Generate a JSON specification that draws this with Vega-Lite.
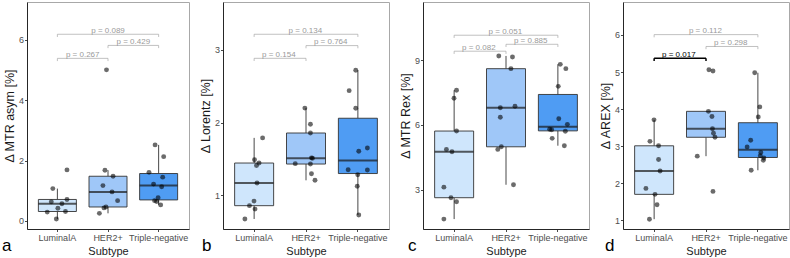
{
  "$schema": "https://vega.github.io/schema/vega-lite/v6.json",
  "background": "white",
  "padding": {"left": 1, "top": 1, "right": 2, "bottom": 0},
  "config": {
    "font": "Liberation Sans",
    "view": {"stroke": "#a8a8a8", "strokeWidth": 1},
    "axis": {
      "grid": false,
      "domainColor": "#262626",
      "domainWidth": 1,
      "tickColor": "#333333",
      "tickSize": 2.5,
      "tickWidth": 0.9,
      "labelFont": "Liberation Sans",
      "labelFontSize": 9,
      "labelColor": "#4d4d4d",
      "labelPadding": 1,
      "titleFont": "Liberation Sans",
      "titleFontSize": 11,
      "titleFontWeight": "normal",
      "titleColor": "#1a1a1a"
    },
    "axisX": {"labelAngle": 0, "titlePadding": 3, "labelPadding": 1.5},
    "axisY": {"titlePadding": 2, "format": "d", "titleFontSize": 12.5},
    "title": {"font": "Liberation Sans", "fontSize": 17, "fontWeight": "normal", "color": "#000000"}
  },
  "datasets": {
    "pts": [
      {"panel": "a", "subtype": "LuminalA", "value": 1.69, "jitter": 0.19},
      {"panel": "a", "subtype": "LuminalA", "value": 1.07, "jitter": -0.09},
      {"panel": "a", "subtype": "LuminalA", "value": 0.63, "jitter": -0.12},
      {"panel": "a", "subtype": "LuminalA", "value": 0.57, "jitter": 0.09},
      {"panel": "a", "subtype": "LuminalA", "value": 0.71, "jitter": 0.19},
      {"panel": "a", "subtype": "LuminalA", "value": 0.42, "jitter": 0.01},
      {"panel": "a", "subtype": "LuminalA", "value": 0.29, "jitter": -0.2},
      {"panel": "a", "subtype": "LuminalA", "value": 0.31, "jitter": 0.16},
      {"panel": "a", "subtype": "LuminalA", "value": 0.06, "jitter": -0.02},
      {"panel": "a", "subtype": "HER2+", "value": 5.01, "jitter": -0.03},
      {"panel": "a", "subtype": "HER2+", "value": 1.68, "jitter": -0.06},
      {"panel": "a", "subtype": "HER2+", "value": 1.48, "jitter": 0.1},
      {"panel": "a", "subtype": "HER2+", "value": 1.17, "jitter": -0.1},
      {"panel": "a", "subtype": "HER2+", "value": 0.96, "jitter": 0.08},
      {"panel": "a", "subtype": "HER2+", "value": 0.67, "jitter": 0.19},
      {"panel": "a", "subtype": "HER2+", "value": 0.46, "jitter": -0.04},
      {"panel": "a", "subtype": "HER2+", "value": 0.43, "jitter": -0.08},
      {"panel": "a", "subtype": "HER2+", "value": 0.25, "jitter": -0.17},
      {"panel": "a", "subtype": "Triple-negative", "value": 2.52, "jitter": -0.07},
      {"panel": "a", "subtype": "Triple-negative", "value": 2.13, "jitter": 0.1},
      {"panel": "a", "subtype": "Triple-negative", "value": 1.61, "jitter": -0.19},
      {"panel": "a", "subtype": "Triple-negative", "value": 1.45, "jitter": 0.08},
      {"panel": "a", "subtype": "Triple-negative", "value": 1.22, "jitter": -0.1},
      {"panel": "a", "subtype": "Triple-negative", "value": 1.13, "jitter": 0.06},
      {"panel": "a", "subtype": "Triple-negative", "value": 0.77, "jitter": -0.01},
      {"panel": "a", "subtype": "Triple-negative", "value": 0.67, "jitter": -0.08},
      {"panel": "a", "subtype": "Triple-negative", "value": 0.64, "jitter": -0.04},
      {"panel": "a", "subtype": "Triple-negative", "value": 0.53, "jitter": 0.04},

      {"panel": "b", "subtype": "LuminalA", "value": 1.79, "jitter": 0.18},
      {"panel": "b", "subtype": "LuminalA", "value": 1.49, "jitter": 0.02},
      {"panel": "b", "subtype": "LuminalA", "value": 1.444, "jitter": 0.11},
      {"panel": "b", "subtype": "LuminalA", "value": 1.41, "jitter": 0.06},
      {"panel": "b", "subtype": "LuminalA", "value": 1.169, "jitter": 0.07},
      {"panel": "b", "subtype": "LuminalA", "value": 0.92, "jitter": 0.01},
      {"panel": "b", "subtype": "LuminalA", "value": 0.857, "jitter": -0.08},
      {"panel": "b", "subtype": "LuminalA", "value": 0.81, "jitter": 0.03},
      {"panel": "b", "subtype": "LuminalA", "value": 0.674, "jitter": -0.17},
      {"panel": "b", "subtype": "HER2+", "value": 2.2, "jitter": -0.01},
      {"panel": "b", "subtype": "HER2+", "value": 1.977, "jitter": 0.1},
      {"panel": "b", "subtype": "HER2+", "value": 1.857, "jitter": 0.1},
      {"panel": "b", "subtype": "HER2+", "value": 1.515, "jitter": 0.12},
      {"panel": "b", "subtype": "HER2+", "value": 1.51, "jitter": 0.14},
      {"panel": "b", "subtype": "HER2+", "value": 1.435, "jitter": -0.2},
      {"panel": "b", "subtype": "HER2+", "value": 1.43, "jitter": 0.1},
      {"panel": "b", "subtype": "HER2+", "value": 1.297, "jitter": 0.12},
      {"panel": "b", "subtype": "HER2+", "value": 1.206, "jitter": 0.19},
      {"panel": "b", "subtype": "Triple-negative", "value": 2.72, "jitter": -0.03},
      {"panel": "b", "subtype": "Triple-negative", "value": 2.44, "jitter": -0.16},
      {"panel": "b", "subtype": "Triple-negative", "value": 2.197, "jitter": -0.03},
      {"panel": "b", "subtype": "Triple-negative", "value": 1.65, "jitter": 0.2},
      {"panel": "b", "subtype": "Triple-negative", "value": 1.605, "jitter": 0.03},
      {"panel": "b", "subtype": "Triple-negative", "value": 1.352, "jitter": -0.18},
      {"panel": "b", "subtype": "Triple-negative", "value": 1.348, "jitter": 0.2},
      {"panel": "b", "subtype": "Triple-negative", "value": 1.283, "jitter": 0.01},
      {"panel": "b", "subtype": "Triple-negative", "value": 1.124, "jitter": 0.0},
      {"panel": "b", "subtype": "Triple-negative", "value": 0.729, "jitter": 0.03},

      {"panel": "c", "subtype": "LuminalA", "value": 7.61, "jitter": 0.06},
      {"panel": "c", "subtype": "LuminalA", "value": 7.24, "jitter": 0.01},
      {"panel": "c", "subtype": "LuminalA", "value": 5.72, "jitter": 0.06},
      {"panel": "c", "subtype": "LuminalA", "value": 4.87, "jitter": -0.14},
      {"panel": "c", "subtype": "LuminalA", "value": 4.76, "jitter": -0.03},
      {"panel": "c", "subtype": "LuminalA", "value": 3.12, "jitter": -0.19},
      {"panel": "c", "subtype": "LuminalA", "value": 2.63, "jitter": -0.05},
      {"panel": "c", "subtype": "LuminalA", "value": 2.44, "jitter": 0.06},
      {"panel": "c", "subtype": "LuminalA", "value": 1.64, "jitter": -0.19},
      {"panel": "c", "subtype": "HER2+", "value": 9.2, "jitter": -0.13},
      {"panel": "c", "subtype": "HER2+", "value": 9.15, "jitter": 0.14},
      {"panel": "c", "subtype": "HER2+", "value": 8.61, "jitter": 0.11},
      {"panel": "c", "subtype": "HER2+", "value": 6.8, "jitter": -0.1},
      {"panel": "c", "subtype": "HER2+", "value": 6.87, "jitter": 0.19},
      {"panel": "c", "subtype": "HER2+", "value": 6.36, "jitter": -0.1},
      {"panel": "c", "subtype": "HER2+", "value": 4.99, "jitter": -0.08},
      {"panel": "c", "subtype": "HER2+", "value": 4.87, "jitter": -0.15},
      {"panel": "c", "subtype": "HER2+", "value": 3.23, "jitter": 0.16},
      {"panel": "c", "subtype": "Triple-negative", "value": 8.81, "jitter": 0.06},
      {"panel": "c", "subtype": "Triple-negative", "value": 8.61, "jitter": 0.17},
      {"panel": "c", "subtype": "Triple-negative", "value": 7.79, "jitter": 0.02},
      {"panel": "c", "subtype": "Triple-negative", "value": 6.29, "jitter": 0.03},
      {"panel": "c", "subtype": "Triple-negative", "value": 6.03, "jitter": 0.2},
      {"panel": "c", "subtype": "Triple-negative", "value": 5.8, "jitter": -0.15},
      {"panel": "c", "subtype": "Triple-negative", "value": 5.78, "jitter": -0.11},
      {"panel": "c", "subtype": "Triple-negative", "value": 5.71, "jitter": 0.16},
      {"panel": "c", "subtype": "Triple-negative", "value": 5.38, "jitter": -0.1},
      {"panel": "c", "subtype": "Triple-negative", "value": 5.04, "jitter": 0.14},

      {"panel": "d", "subtype": "LuminalA", "value": 3.71, "jitter": 0.01},
      {"panel": "d", "subtype": "LuminalA", "value": 3.13, "jitter": -0.07},
      {"panel": "d", "subtype": "LuminalA", "value": 3.01, "jitter": 0.1},
      {"panel": "d", "subtype": "LuminalA", "value": 2.64, "jitter": 0.1},
      {"panel": "d", "subtype": "LuminalA", "value": 2.33, "jitter": 0.13},
      {"panel": "d", "subtype": "LuminalA", "value": 1.86, "jitter": -0.15},
      {"panel": "d", "subtype": "LuminalA", "value": 1.7, "jitter": 0.03},
      {"panel": "d", "subtype": "LuminalA", "value": 1.42, "jitter": 0.07},
      {"panel": "d", "subtype": "LuminalA", "value": 1.03, "jitter": -0.08},
      {"panel": "d", "subtype": "HER2+", "value": 5.06, "jitter": 0.07},
      {"panel": "d", "subtype": "HER2+", "value": 5.03, "jitter": 0.15},
      {"panel": "d", "subtype": "HER2+", "value": 3.94, "jitter": 0.06},
      {"panel": "d", "subtype": "HER2+", "value": 3.8, "jitter": 0.13},
      {"panel": "d", "subtype": "HER2+", "value": 3.47, "jitter": 0.14},
      {"panel": "d", "subtype": "HER2+", "value": 3.35, "jitter": 0.16},
      {"panel": "d", "subtype": "HER2+", "value": 3.24, "jitter": 0.19},
      {"panel": "d", "subtype": "HER2+", "value": 2.73, "jitter": -0.16},
      {"panel": "d", "subtype": "HER2+", "value": 1.78, "jitter": 0.15},
      {"panel": "d", "subtype": "Triple-negative", "value": 4.98, "jitter": -0.05},
      {"panel": "d", "subtype": "Triple-negative", "value": 4.06, "jitter": 0.05},
      {"panel": "d", "subtype": "Triple-negative", "value": 3.79, "jitter": 0.02},
      {"panel": "d", "subtype": "Triple-negative", "value": 3.16, "jitter": -0.13},
      {"panel": "d", "subtype": "Triple-negative", "value": 2.98, "jitter": -0.2},
      {"panel": "d", "subtype": "Triple-negative", "value": 2.83, "jitter": 0.07},
      {"panel": "d", "subtype": "Triple-negative", "value": 2.74, "jitter": 0.06},
      {"panel": "d", "subtype": "Triple-negative", "value": 2.68, "jitter": 0.13},
      {"panel": "d", "subtype": "Triple-negative", "value": 2.62, "jitter": 0.12},
      {"panel": "d", "subtype": "Triple-negative", "value": 2.35, "jitter": -0.12}
    ],
    "brk": [
      {"panel": "a", "g1": "LuminalA", "g2": "Triple-negative", "y": 6.19, "ytip": 6.1, "mid": "HER2+", "moff": 0, "label": "p = 0.089", "sig": false},
      {"panel": "a", "g1": "HER2+", "g2": "Triple-negative", "y": 5.82, "ytip": 5.73, "mid": "HER2+", "moff": 0.5, "label": "p = 0.429", "sig": false},
      {"panel": "a", "g1": "LuminalA", "g2": "HER2+", "y": 5.39, "ytip": 5.3, "mid": "LuminalA", "moff": 0.5, "label": "p = 0.267", "sig": false},
      {"panel": "b", "g1": "LuminalA", "g2": "Triple-negative", "y": 3.216, "ytip": 3.179, "mid": "HER2+", "moff": 0, "label": "p = 0.134", "sig": false},
      {"panel": "b", "g1": "HER2+", "g2": "Triple-negative", "y": 3.06, "ytip": 3.023, "mid": "HER2+", "moff": 0.5, "label": "p = 0.764", "sig": false},
      {"panel": "b", "g1": "LuminalA", "g2": "HER2+", "y": 2.885, "ytip": 2.848, "mid": "LuminalA", "moff": 0.5, "label": "p = 0.154", "sig": false},
      {"panel": "c", "g1": "LuminalA", "g2": "Triple-negative", "y": 10.16, "ytip": 10.035, "mid": "HER2+", "moff": 0, "label": "p = 0.051", "sig": false},
      {"panel": "c", "g1": "HER2+", "g2": "Triple-negative", "y": 9.74, "ytip": 9.615, "mid": "HER2+", "moff": 0.5, "label": "p = 0.885", "sig": false},
      {"panel": "c", "g1": "LuminalA", "g2": "HER2+", "y": 9.42, "ytip": 9.295, "mid": "LuminalA", "moff": 0.5, "label": "p = 0.082", "sig": false},
      {"panel": "d", "g1": "LuminalA", "g2": "Triple-negative", "y": 6.01, "ytip": 5.937, "mid": "HER2+", "moff": 0, "label": "p = 0.112", "sig": false},
      {"panel": "d", "g1": "HER2+", "g2": "Triple-negative", "y": 5.69, "ytip": 5.617, "mid": "HER2+", "moff": 0.5, "label": "p = 0.298", "sig": false},
      {"panel": "d", "g1": "LuminalA", "g2": "HER2+", "y": 5.37, "ytip": 5.297, "mid": "LuminalA", "moff": 0.5, "label": "p = 0.017", "sig": true}
    ]
  },
  "hconcat": [
    {
      "width": 162, "height": 227,
      "title": {"text": "a", "orient": "bottom", "anchor": "start", "frame": "group", "dx": -25, "offset": -5, "baseline": "alphabetic"},
      "layer": [
        {"data": {"name": "pts"}, "transform": [{"filter": "datum.panel == 'a'"}],
         "mark": {"type": "boxplot", "size": 38, "extent": 1.5, "outliers": false, "ticks": false,
                  "box": {"stroke": "#333333", "strokeWidth": 0.9},
                  "median": {"color": "#1a1a1a", "thickness": 2},
                  "rule": {"color": "#333333", "strokeWidth": 0.9}},
         "encoding": {
           "x": {"field": "subtype", "type": "nominal", "title": "Subtype", "sort": ["LuminalA", "HER2+", "Triple-negative"],
                 "scale": {"domain": ["LuminalA", "HER2+", "Triple-negative"], "paddingInner": 0, "paddingOuter": 0.1}},
           "y": {"field": "value", "type": "quantitative", "title": "Δ MTR asym [%]",
                 "scale": {"domain": [-0.27, 7.26], "nice": false, "zero": false}, "axis": {"values": [0, 2, 4, 6]}},
           "color": {"field": "subtype", "type": "nominal", "legend": null,
                     "scale": {"domain": ["LuminalA", "HER2+", "Triple-negative"], "range": ["#cfe6fc", "#9fc7f8", "#4f9cf3"]}}
         }},
        {"data": {"name": "pts"}, "transform": [{"filter": "datum.panel == 'a'"}],
         "mark": {"type": "point", "filled": true, "color": "#000000", "opacity": 0.58, "size": 24},
         "encoding": {
           "x": {"field": "subtype", "type": "nominal", "title": "Subtype"},
           "xOffset": {"field": "jitter", "type": "quantitative", "scale": {"domain": [-0.5, 0.5]}},
           "y": {"field": "value", "type": "quantitative", "title": "Δ MTR asym [%]"}
         }},
        {"data": {"name": "brk"}, "transform": [{"filter": "datum.panel == 'a'"}],
         "layer": [
           {"mark": {"type": "rule"},
            "encoding": {"x": {"field": "g1", "type": "nominal", "title": "Subtype"}, "x2": {"field": "g2"},
                         "y": {"field": "y", "type": "quantitative", "title": "Δ MTR asym [%]"},
                         "color": {"condition": {"test": "datum.sig", "value": "#000000"}, "value": "#a6a6a6"},
                         "strokeWidth": {"condition": {"test": "datum.sig", "value": 1.5}, "value": 0.7}}},
           {"mark": {"type": "rule"},
            "encoding": {"x": {"field": "g1", "type": "nominal", "title": "Subtype"},
                         "y": {"field": "y", "type": "quantitative", "title": "Δ MTR asym [%]"}, "y2": {"field": "ytip"},
                         "color": {"condition": {"test": "datum.sig", "value": "#000000"}, "value": "#a6a6a6"},
                         "strokeWidth": {"condition": {"test": "datum.sig", "value": 1.5}, "value": 0.7}}},
           {"mark": {"type": "rule"},
            "encoding": {"x": {"field": "g2", "type": "nominal", "title": "Subtype"},
                         "y": {"field": "y", "type": "quantitative", "title": "Δ MTR asym [%]"}, "y2": {"field": "ytip"},
                         "color": {"condition": {"test": "datum.sig", "value": "#000000"}, "value": "#a6a6a6"},
                         "strokeWidth": {"condition": {"test": "datum.sig", "value": 1.5}, "value": 0.7}}},
           {"mark": {"type": "text", "fontSize": 8, "baseline": "alphabetic", "dy": -1.5},
            "encoding": {"x": {"field": "mid", "type": "nominal", "title": "Subtype"},
                         "xOffset": {"field": "moff", "type": "quantitative", "scale": {"domain": [-0.5, 0.5]}},
                         "y": {"field": "y", "type": "quantitative", "title": "Δ MTR asym [%]"},
                         "text": {"field": "label"},
                         "color": {"condition": {"test": "datum.sig", "value": "#000000"}, "value": "#9a9a9a"}}}
         ]}
      ]
    },
    {
      "width": 166, "height": 227,
      "title": {"text": "b", "orient": "bottom", "anchor": "start", "frame": "group", "dx": -21, "offset": -5, "baseline": "alphabetic"},
      "layer": [
        {"data": {"name": "pts"}, "transform": [{"filter": "datum.panel == 'b'"}],
         "mark": {"type": "boxplot", "size": 39, "extent": 1.5, "outliers": false, "ticks": false,
                  "box": {"stroke": "#333333", "strokeWidth": 0.9},
                  "median": {"color": "#1a1a1a", "thickness": 2},
                  "rule": {"color": "#333333", "strokeWidth": 0.9}},
         "encoding": {
           "x": {"field": "subtype", "type": "nominal", "title": "Subtype", "sort": ["LuminalA", "HER2+", "Triple-negative"],
                 "scale": {"domain": ["LuminalA", "HER2+", "Triple-negative"], "paddingInner": 0, "paddingOuter": 0.1}},
           "y": {"field": "value", "type": "quantitative", "title": "Δ Lorentz [%]",
                 "scale": {"domain": [0.536, 3.66], "nice": false, "zero": false}, "axis": {"values": [1, 2, 3]}},
           "color": {"field": "subtype", "type": "nominal", "legend": null,
                     "scale": {"domain": ["LuminalA", "HER2+", "Triple-negative"], "range": ["#cfe6fc", "#9fc7f8", "#4f9cf3"]}}
         }},
        {"data": {"name": "pts"}, "transform": [{"filter": "datum.panel == 'b'"}],
         "mark": {"type": "point", "filled": true, "color": "#000000", "opacity": 0.58, "size": 24},
         "encoding": {
           "x": {"field": "subtype", "type": "nominal", "title": "Subtype"},
           "xOffset": {"field": "jitter", "type": "quantitative", "scale": {"domain": [-0.5, 0.5]}},
           "y": {"field": "value", "type": "quantitative", "title": "Δ Lorentz [%]"}
         }},
        {"data": {"name": "brk"}, "transform": [{"filter": "datum.panel == 'b'"}],
         "layer": [
           {"mark": {"type": "rule"},
            "encoding": {"x": {"field": "g1", "type": "nominal", "title": "Subtype"}, "x2": {"field": "g2"},
                         "y": {"field": "y", "type": "quantitative", "title": "Δ Lorentz [%]"},
                         "color": {"condition": {"test": "datum.sig", "value": "#000000"}, "value": "#a6a6a6"},
                         "strokeWidth": {"condition": {"test": "datum.sig", "value": 1.5}, "value": 0.7}}},
           {"mark": {"type": "rule"},
            "encoding": {"x": {"field": "g1", "type": "nominal", "title": "Subtype"},
                         "y": {"field": "y", "type": "quantitative", "title": "Δ Lorentz [%]"}, "y2": {"field": "ytip"},
                         "color": {"condition": {"test": "datum.sig", "value": "#000000"}, "value": "#a6a6a6"},
                         "strokeWidth": {"condition": {"test": "datum.sig", "value": 1.5}, "value": 0.7}}},
           {"mark": {"type": "rule"},
            "encoding": {"x": {"field": "g2", "type": "nominal", "title": "Subtype"},
                         "y": {"field": "y", "type": "quantitative", "title": "Δ Lorentz [%]"}, "y2": {"field": "ytip"},
                         "color": {"condition": {"test": "datum.sig", "value": "#000000"}, "value": "#a6a6a6"},
                         "strokeWidth": {"condition": {"test": "datum.sig", "value": 1.5}, "value": 0.7}}},
           {"mark": {"type": "text", "fontSize": 8, "baseline": "alphabetic", "dy": -1.5},
            "encoding": {"x": {"field": "mid", "type": "nominal", "title": "Subtype"},
                         "xOffset": {"field": "moff", "type": "quantitative", "scale": {"domain": [-0.5, 0.5]}},
                         "y": {"field": "y", "type": "quantitative", "title": "Δ Lorentz [%]"},
                         "text": {"field": "label"},
                         "color": {"condition": {"test": "datum.sig", "value": "#000000"}, "value": "#9a9a9a"}}}
         ]}
      ]
    },
    {
      "width": 166, "height": 227,
      "title": {"text": "c", "orient": "bottom", "anchor": "start", "frame": "group", "dx": -15, "offset": -5, "baseline": "alphabetic"},
      "layer": [
        {"data": {"name": "pts"}, "transform": [{"filter": "datum.panel == 'c'"}],
         "mark": {"type": "boxplot", "size": 39, "extent": 1.5, "outliers": false, "ticks": false,
                  "box": {"stroke": "#333333", "strokeWidth": 0.9},
                  "median": {"color": "#1a1a1a", "thickness": 2},
                  "rule": {"color": "#333333", "strokeWidth": 0.9}},
         "encoding": {
           "x": {"field": "subtype", "type": "nominal", "title": "Subtype", "sort": ["LuminalA", "HER2+", "Triple-negative"],
                 "scale": {"domain": ["LuminalA", "HER2+", "Triple-negative"], "paddingInner": 0, "paddingOuter": 0.1}},
           "y": {"field": "value", "type": "quantitative", "title": "Δ MTR Rex [%]",
                 "scale": {"domain": [1.18, 11.7], "nice": false, "zero": false}, "axis": {"values": [3, 6, 9]}},
           "color": {"field": "subtype", "type": "nominal", "legend": null,
                     "scale": {"domain": ["LuminalA", "HER2+", "Triple-negative"], "range": ["#cfe6fc", "#9fc7f8", "#4f9cf3"]}}
         }},
        {"data": {"name": "pts"}, "transform": [{"filter": "datum.panel == 'c'"}],
         "mark": {"type": "point", "filled": true, "color": "#000000", "opacity": 0.58, "size": 24},
         "encoding": {
           "x": {"field": "subtype", "type": "nominal", "title": "Subtype"},
           "xOffset": {"field": "jitter", "type": "quantitative", "scale": {"domain": [-0.5, 0.5]}},
           "y": {"field": "value", "type": "quantitative", "title": "Δ MTR Rex [%]"}
         }},
        {"data": {"name": "brk"}, "transform": [{"filter": "datum.panel == 'c'"}],
         "layer": [
           {"mark": {"type": "rule"},
            "encoding": {"x": {"field": "g1", "type": "nominal", "title": "Subtype"}, "x2": {"field": "g2"},
                         "y": {"field": "y", "type": "quantitative", "title": "Δ MTR Rex [%]"},
                         "color": {"condition": {"test": "datum.sig", "value": "#000000"}, "value": "#a6a6a6"},
                         "strokeWidth": {"condition": {"test": "datum.sig", "value": 1.5}, "value": 0.7}}},
           {"mark": {"type": "rule"},
            "encoding": {"x": {"field": "g1", "type": "nominal", "title": "Subtype"},
                         "y": {"field": "y", "type": "quantitative", "title": "Δ MTR Rex [%]"}, "y2": {"field": "ytip"},
                         "color": {"condition": {"test": "datum.sig", "value": "#000000"}, "value": "#a6a6a6"},
                         "strokeWidth": {"condition": {"test": "datum.sig", "value": 1.5}, "value": 0.7}}},
           {"mark": {"type": "rule"},
            "encoding": {"x": {"field": "g2", "type": "nominal", "title": "Subtype"},
                         "y": {"field": "y", "type": "quantitative", "title": "Δ MTR Rex [%]"}, "y2": {"field": "ytip"},
                         "color": {"condition": {"test": "datum.sig", "value": "#000000"}, "value": "#a6a6a6"},
                         "strokeWidth": {"condition": {"test": "datum.sig", "value": 1.5}, "value": 0.7}}},
           {"mark": {"type": "text", "fontSize": 8, "baseline": "alphabetic", "dy": -1.5},
            "encoding": {"x": {"field": "mid", "type": "nominal", "title": "Subtype"},
                         "xOffset": {"field": "moff", "type": "quantitative", "scale": {"domain": [-0.5, 0.5]}},
                         "y": {"field": "y", "type": "quantitative", "title": "Δ MTR Rex [%]"},
                         "text": {"field": "label"},
                         "color": {"condition": {"test": "datum.sig", "value": "#000000"}, "value": "#9a9a9a"}}}
         ]}
      ]
    },
    {
      "width": 166, "height": 227,
      "title": {"text": "d", "orient": "bottom", "anchor": "start", "frame": "group", "dx": -18, "offset": -5, "baseline": "alphabetic"},
      "layer": [
        {"data": {"name": "pts"}, "transform": [{"filter": "datum.panel == 'd'"}],
         "mark": {"type": "boxplot", "size": 39, "extent": 1.5, "outliers": false, "ticks": false,
                  "box": {"stroke": "#333333", "strokeWidth": 0.9},
                  "median": {"color": "#1a1a1a", "thickness": 2},
                  "rule": {"color": "#333333", "strokeWidth": 0.9}},
         "encoding": {
           "x": {"field": "subtype", "type": "nominal", "title": "Subtype", "sort": ["LuminalA", "HER2+", "Triple-negative"],
                 "scale": {"domain": ["LuminalA", "HER2+", "Triple-negative"], "paddingInner": 0, "paddingOuter": 0.1}},
           "y": {"field": "value", "type": "quantitative", "title": "Δ AREX [%]",
                 "scale": {"domain": [0.765, 6.89], "nice": false, "zero": false}, "axis": {"values": [1, 2, 3, 4, 5, 6]}},
           "color": {"field": "subtype", "type": "nominal", "legend": null,
                     "scale": {"domain": ["LuminalA", "HER2+", "Triple-negative"], "range": ["#cfe6fc", "#9fc7f8", "#4f9cf3"]}}
         }},
        {"data": {"name": "pts"}, "transform": [{"filter": "datum.panel == 'd'"}],
         "mark": {"type": "point", "filled": true, "color": "#000000", "opacity": 0.58, "size": 24},
         "encoding": {
           "x": {"field": "subtype", "type": "nominal", "title": "Subtype"},
           "xOffset": {"field": "jitter", "type": "quantitative", "scale": {"domain": [-0.5, 0.5]}},
           "y": {"field": "value", "type": "quantitative", "title": "Δ AREX [%]"}
         }},
        {"data": {"name": "brk"}, "transform": [{"filter": "datum.panel == 'd'"}],
         "layer": [
           {"mark": {"type": "rule"},
            "encoding": {"x": {"field": "g1", "type": "nominal", "title": "Subtype"}, "x2": {"field": "g2"},
                         "y": {"field": "y", "type": "quantitative", "title": "Δ AREX [%]"},
                         "color": {"condition": {"test": "datum.sig", "value": "#000000"}, "value": "#a6a6a6"},
                         "strokeWidth": {"condition": {"test": "datum.sig", "value": 1.5}, "value": 0.7}}},
           {"mark": {"type": "rule"},
            "encoding": {"x": {"field": "g1", "type": "nominal", "title": "Subtype"},
                         "y": {"field": "y", "type": "quantitative", "title": "Δ AREX [%]"}, "y2": {"field": "ytip"},
                         "color": {"condition": {"test": "datum.sig", "value": "#000000"}, "value": "#a6a6a6"},
                         "strokeWidth": {"condition": {"test": "datum.sig", "value": 1.5}, "value": 0.7}}},
           {"mark": {"type": "rule"},
            "encoding": {"x": {"field": "g2", "type": "nominal", "title": "Subtype"},
                         "y": {"field": "y", "type": "quantitative", "title": "Δ AREX [%]"}, "y2": {"field": "ytip"},
                         "color": {"condition": {"test": "datum.sig", "value": "#000000"}, "value": "#a6a6a6"},
                         "strokeWidth": {"condition": {"test": "datum.sig", "value": 1.5}, "value": 0.7}}},
           {"mark": {"type": "text", "fontSize": 8, "baseline": "alphabetic", "dy": -1.5},
            "encoding": {"x": {"field": "mid", "type": "nominal", "title": "Subtype"},
                         "xOffset": {"field": "moff", "type": "quantitative", "scale": {"domain": [-0.5, 0.5]}},
                         "y": {"field": "y", "type": "quantitative", "title": "Δ AREX [%]"},
                         "text": {"field": "label"},
                         "color": {"condition": {"test": "datum.sig", "value": "#000000"}, "value": "#9a9a9a"}}}
         ]}
      ]
    }
  ],
  "spacing": 34,
  "bounds": "flush"
}
